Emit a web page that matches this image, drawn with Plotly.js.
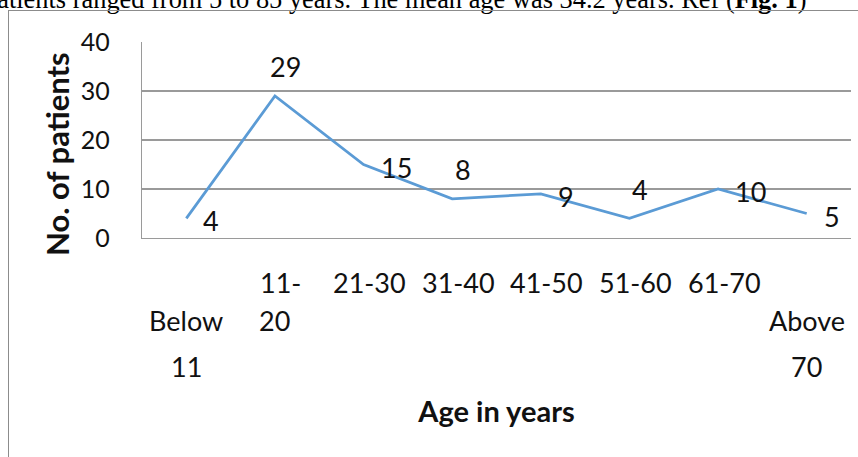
<!DOCTYPE html>
<html><head><meta charset="utf-8">
<script src="https://cdn.plot.ly/plotly-3.0.1.min.js"></script>
<style>
html,body{margin:0;padding:0;background:#fff;overflow:hidden;width:858px;height:457px;}
#chart{position:absolute;left:0;top:0;width:858px;height:457px;}
#frame{position:absolute;left:8px;top:10px;width:1000px;height:1000px;border:1px solid #8c8c8c;pointer-events:none;}
</style></head><body>
<div id="chart"></div><div id="frame"></div>
<script>
// ---- data ----
const categories = ["Below 11","11-20","21-30","31-40","41-50","51-60","61-70","Above 70"];
const patients = [4, 29, 15, 8, 9, 4, 10, 5];
const tickLine1 = ["", "11-", "21-30", "31-40", "41-50", "51-60", "61-70", ""];
const tickLine2 = ["Below", "20", "", "", "", "", "", "Above"];
const tickLine3 = ["11", "", "", "", "", "", "", "70"];
const labelPlacement = ["right","above","right","above","right","above","right","right"];
const yTicks = [0, 10, 20, 30, 40];
const xTitle = "Age in years";
const yTitle = "No. of patients";
const captionText = "patients ranged from 5 to 85 years. The mean age was 34.2 years. Ref (<b>Fig. 1</b>)";

// ---- styles ----
const FONT = "Lato, 'Open Sans', sans-serif";
const TXT = "#111";
const GRID = "#9a9a9a";

const annotations = [];
const rows = [
  {lines: tickLine1, yshift: -44, xshift: 6},
  {lines: tickLine2, yshift: -82.5, xshift: 0},
  {lines: tickLine3, yshift: -128, xshift: 0}
];
rows.forEach(r => {
  r.lines.forEach((t, i) => {
    if (!t) return;
    annotations.push({
      x: categories[i], xref: 'x', y: 0, yref: 'paper',
      xanchor: 'center', yanchor: 'middle', xshift: r.xshift, yshift: r.yshift,
      text: t, showarrow: false, font: {family: FONT, size: 27, color: TXT}
    });
  });
});
patients.forEach((v, i) => {
  const right = labelPlacement[i] === 'right';
  annotations.push({
    x: categories[i], xref: 'x', y: v, yref: 'y',
    xanchor: right ? 'left' : 'center', yanchor: 'middle',
    xshift: right ? 15 : 11, yshift: right ? -2.5 : 29,
    text: String(v), showarrow: false, font: {family: FONT, size: 27, color: TXT}
  });
});
// y-axis title (positioned like the reference, lower than plot centre)
annotations.push({
  x: 0, xref: 'paper', y: 0, yref: 'paper', xanchor: 'center', yanchor: 'middle',
  xshift: -85, yshift: 84, textangle: -90, text: yTitle, showarrow: false,
  font: {family: FONT, size: 31, color: TXT, weight: 'bold'}
});
// caption line cut off at the top of the picture
annotations.push({
  x: 1, xref: 'paper', y: 1, yref: 'paper', xanchor: 'right', yanchor: 'middle',
  xshift: -42, yshift: 43.3, text: captionText, showarrow: false,
  font: {family: "'Liberation Serif', 'Times New Roman', serif", size: 26.4, color: '#000'}
});

const data = [{
  type: 'scatter', mode: 'lines', x: categories, y: patients,
  line: {color: '#5B9BD5', width: 2.75}, hoverinfo: 'skip', showlegend: false
}];

const layout = {
  width: 858, height: 457,
  margin: {l: 142, r: 7, t: 42, b: 219, pad: 0},
  paper_bgcolor: 'rgba(0,0,0,0)', plot_bgcolor: 'rgba(0,0,0,0)',
  showlegend: false,
  xaxis: {
    type: 'category', categoryarray: categories, range: [-0.5, 7.5],
    showticklabels: false, showgrid: false, zeroline: false,
    showline: true, linecolor: GRID, linewidth: 1.3, ticks: '',
    title: {text: xTitle, font: {family: FONT, size: 29, color: TXT, weight: 'bold'}, standoff: 163}
  },
  yaxis: {
    range: [0, 40], tickvals: yTicks, ticktext: yTicks.map(String),
    showgrid: true, gridcolor: GRID, gridwidth: 1.3, zeroline: false,
    showline: true, linecolor: GRID, linewidth: 1.3, ticks: '',
    ticklabelstandoff: 26,
    tickfont: {family: FONT, size: 25, color: TXT}
  },
  annotations: annotations
};

Plotly.newPlot('chart', data, layout, {displayModeBar: false, staticPlot: true});
</script>
</body></html>
